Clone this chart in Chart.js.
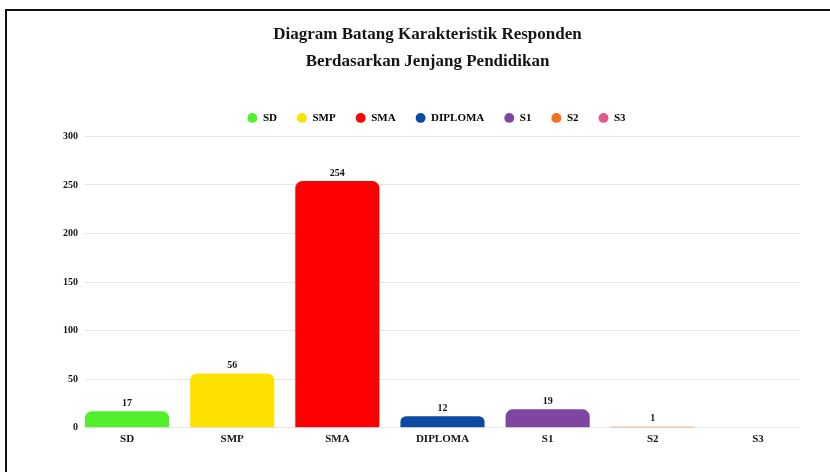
<!DOCTYPE html>
<html>
<head>
<meta charset="utf-8">
<script src="https://cdn.jsdelivr.net/npm/chart.js@4/dist/chart.umd.min.js"></script>
<style>
  html, body { margin: 0; padding: 0; background: #fff; overflow: hidden; }
  #box {
    position: absolute; left: 5px; top: 9px;
    width: 840px; height: 470px;
    border-left: 2px solid #111; border-top: 2px solid #111;
    background: #fff;
  }
  #wrap { position: absolute; left: 0; top: 0; width: 836px; height: 461px; }
</style>
</head>
<body>
<div id="box"><div id="wrap"><canvas id="chart"></canvas></div></div>
<script>
// --- data ---
const categories = ['SD', 'SMP', 'SMA', 'DIPLOMA', 'S1', 'S2', 'S3'];
const counts = [17, 56, 254, 12, 19, 1, 0];
const colors = ['#52f02c', '#ffe100', '#ff0000', '#0b4aa2', '#7f45a0', '#f0701e', '#e2588a'];
const yTicks = [0, 50, 100, 150, 200, 250, 300];

const serif = "'Liberation Serif', 'Times New Roman', serif";
const ink = '#151515';

// value labels above each bar (no datalabels plugin available)
const valueLabels = {
    id: 'valueLabels',
    afterDatasetsDraw(chart) {
        const ctx = chart.ctx;
        const meta = chart.getDatasetMeta(0);
        ctx.save();
        ctx.font = 'bold 10px ' + serif;
        ctx.fillStyle = ink;
        ctx.textAlign = 'center';
        ctx.textBaseline = 'bottom';
        meta.data.forEach((bar, i) => {
            if (!counts[i]) return;
            ctx.fillText(String(counts[i]), bar.x, bar.y - 3);
        });
        ctx.restore();
    }
};

// nudge the legend a little up and right, like the original
const legendNudge = {
    id: 'legendNudge',
    afterLayout(chart) {
        const lg = chart.legend;
        lg.top -= 3; lg.bottom -= 3;
        lg.left += 18;
    }
};

const ctx = document.getElementById('chart').getContext('2d');
new Chart(ctx, {
    type: 'bar',
    data: {
        datasets: [{
            data: categories.map((c, i) => ({ x: i, y: counts[i] })),
            backgroundColor: colors,
            borderRadius: { topLeft: 7, topRight: 7, bottomLeft: 0, bottomRight: 0 },
            borderSkipped: 'bottom',
            barPercentage: 1,
            categoryPercentage: 0.8
        }]
    },
    options: {
        responsive: true,
        maintainAspectRatio: false,
        animation: false,
        layout: { padding: { left: 48, right: 43, top: 2, bottom: 29 } },
        plugins: {
            title: {
                display: true,
                text: ['Diagram Batang Karakteristik Responden', 'Berdasarkan Jenjang Pendidikan'],
                color: ink,
                font: { family: serif, size: 17, weight: 'bold', lineHeight: 1.6 },
                padding: { top: 8, bottom: 20 }
            },
            legend: {
                display: true,
                position: 'top',
                labels: {
                    usePointStyle: true,
                    boxWidth: 10,
                    boxHeight: 7,
                    padding: 20,
                    color: ink,
                    font: { family: serif, size: 11, weight: 'bold' },
                    generateLabels: () => categories.map((c, i) => ({
                        text: c,
                        fillStyle: colors[i],
                        strokeStyle: colors[i],
                        lineWidth: 0,
                        pointStyle: 'circle',
                        hidden: false,
                        index: i
                    }))
                },
                onClick: () => {}
            },
            tooltip: { enabled: false }
        },
        scales: {
            x: {
                type: 'linear',
                offset: false,
                min: -0.4,
                max: categories.length - 0.6,
                grid: { display: false },
                border: { display: false },
                afterBuildTicks: s => { s.ticks = categories.map((c, i) => ({ value: i })); },
                ticks: {
                    autoSkip: false,
                    maxRotation: 0,
                    padding: -3,
                    color: ink,
                    font: { family: serif, size: 11, weight: 'bold' },
                    callback: v => categories[v]
                }
            },
            y: {
                min: 0,
                max: 300,
                afterBuildTicks: s => { s.ticks = yTicks.map(v => ({ value: v })); },
                afterFit: s => { s.width = 30; },
                grid: { color: '#e6e6e6', drawTicks: false, lineWidth: 1 },
                border: { display: false },
                ticks: {
                    padding: 7,
                    color: ink,
                    font: { family: serif, size: 10, weight: 'bold' }
                }
            }
        }
    },
    plugins: [valueLabels, legendNudge]
});
</script>
</body>
</html>
